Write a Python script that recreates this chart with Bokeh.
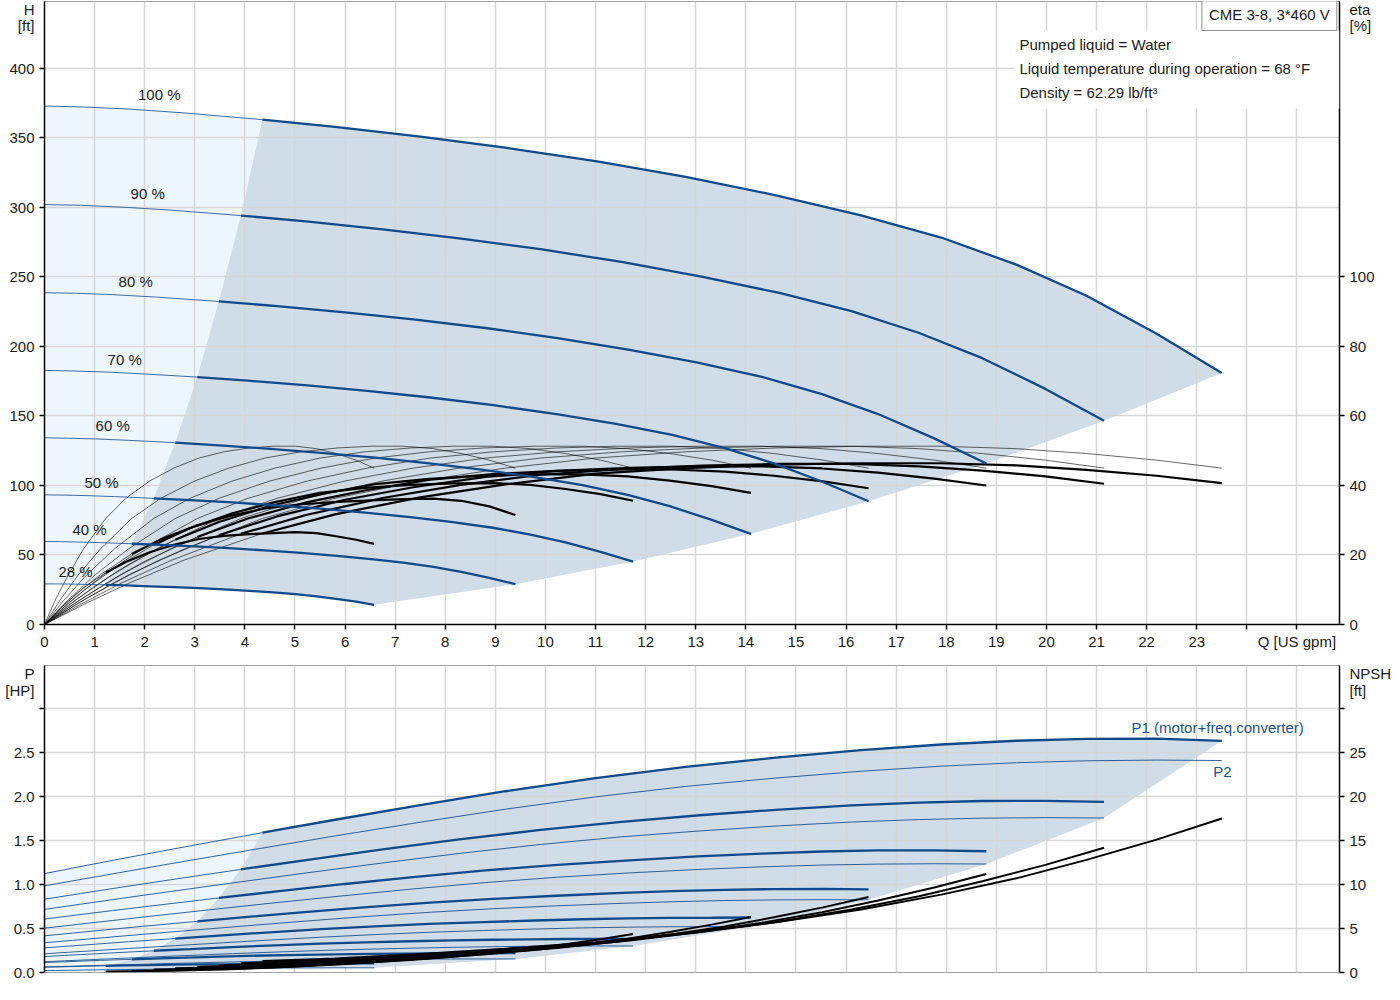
from bokeh.plotting import figure
from bokeh.layouts import column
from bokeh.models import Range1d, LinearAxis, FixedTicker, Label, BoxAnnotation, NumeralTickFormatter
from bokeh.embed import file_html
from bokeh.resources import INLINE

FONT = "Liberation Sans"
BLUE = "#0e4a8a"
DARK_FILL = "#d0dce7"
LIGHT_FILL = "#eef6fd"
GRID = "#d6d6d6"

# speed curves (% of nominal speed)
speeds = [100, 90, 80, 70, 60, 50, 40, 28]
speed_text = ["100 %", "90 %", "80 %", "70 %", "60 %", "50 %", "40 %", "28 %"]
speed_text_q = [2.29, 2.06, 1.82, 1.60, 1.36, 1.14, 0.90, 0.62]
speed_text_h = [381, 310, 247, 191, 143, 102, 68, 38]
MIN = 4  # index of the minimum flow point on each curve

flow_gpm = {
    100: [0, 0.8, 1.7, 2.8, 4.35, 5.8, 7.5, 9.2, 11, 12.8, 14.6, 16.3, 17.9, 19.4, 20.8, 22.2, 23.5],
    90: [0, 0.72, 1.53, 2.52, 3.92, 5.22, 6.75, 8.28, 9.9, 11.52, 13.14, 14.67, 16.11, 17.46, 18.72, 19.98, 21.15],
    80: [0, 0.64, 1.36, 2.24, 3.48, 4.64, 6, 7.36, 8.8, 10.24, 11.68, 13.04, 14.32, 15.52, 16.64, 17.76, 18.8],
    70: [0, 0.56, 1.19, 1.96, 3.05, 4.06, 5.25, 6.44, 7.7, 8.96, 10.22, 11.41, 12.53, 13.58, 14.56, 15.54, 16.45],
    60: [0, 0.48, 1.02, 1.68, 2.61, 3.48, 4.5, 5.52, 6.6, 7.68, 8.76, 9.78, 10.74, 11.64, 12.48, 13.32, 14.1],
    50: [0, 0.4, 0.85, 1.4, 2.18, 2.9, 3.75, 4.6, 5.5, 6.4, 7.3, 8.15, 8.95, 9.7, 10.4, 11.1, 11.75],
    40: [0, 0.32, 0.68, 1.12, 1.74, 2.32, 3, 3.68, 4.4, 5.12, 5.84, 6.52, 7.16, 7.76, 8.32, 8.88, 9.4],
    28: [0, 0.22, 0.48, 0.78, 1.22, 1.62, 2.1, 2.58, 3.08, 3.58, 4.09, 4.56, 5.01, 5.43, 5.82, 6.22, 6.58],
}

head_ft = {
    100: [373, 372.3, 370.8, 368.0, 363.2, 358.0, 351.0, 343.0, 333.3, 322.0, 308.8, 294.4, 278.4, 258.9, 236.5, 209.2, 181],
    90: [302.1, 301.6, 300.3, 298.1, 294.2, 290.0, 284.3, 277.8, 270.0, 260.8, 250.1, 238.5, 225.5, 209.7, 191.6, 169.5, 146.6],
    80: [238.7, 238.3, 237.3, 235.5, 232.4, 229.1, 224.6, 219.5, 213.3, 206.1, 197.6, 188.4, 178.2, 165.7, 151.4, 133.9, 115.8],
    70: [182.8, 182.4, 181.7, 180.3, 178.0, 175.4, 172.0, 168.1, 163.3, 157.8, 151.3, 144.3, 136.4, 126.9, 115.9, 102.5, 88.7],
    60: [134.3, 134.0, 133.5, 132.5, 130.8, 128.9, 126.4, 123.5, 120.0, 115.9, 111.2, 106.0, 100.2, 93.2, 85.1, 75.3, 65.2],
    50: [93.3, 93.1, 92.7, 92.0, 90.8, 89.5, 87.8, 85.8, 83.3, 80.5, 77.2, 73.6, 69.6, 64.7, 59.1, 52.3, 45.3],
    40: [59.7, 59.6, 59.3, 58.9, 58.1, 57.3, 56.2, 54.9, 53.3, 51.5, 49.4, 47.1, 44.5, 41.4, 37.8, 33.5, 29.0],
    28: [29.2, 29.2, 29.1, 28.9, 28.5, 28.1, 27.5, 26.9, 26.1, 25.2, 24.2, 23.1, 21.8, 20.3, 18.5, 16.4, 14.2],
}

# pump efficiency, same shape on every speed curve
eta_pump_pct = [0, 7.2, 14.4, 21.8, 30.5, 36.3, 41.3, 45.0, 47.9, 49.7, 50.8, 51.3, 51.3, 50.6, 49.2, 47.3, 45.0]

eta_total_pct = {
    100: [0, 5.9, 12.0, 18.6, 26.2, 31.7, 36.6, 40.3, 43.4, 45.0, 46.0, 46.4, 46.4, 45.8, 44.5, 42.8, 40.7],
    90: [0, 5.8, 11.9, 18.4, 26.1, 31.5, 36.4, 40.1, 43.1, 44.7, 45.7, 46.2, 46.2, 45.5, 44.3, 42.6, 40.5],
    80: [0, 5.8, 11.8, 18.2, 25.7, 31.1, 35.9, 39.5, 42.5, 44.2, 45.1, 45.5, 45.5, 44.9, 43.7, 42.0, 40.0],
    70: [0, 5.7, 11.5, 17.9, 25.2, 30.5, 35.2, 38.7, 41.7, 43.3, 44.2, 44.6, 44.6, 44.0, 42.8, 41.2, 39.2],
    60: [0, 5.5, 11.2, 17.3, 24.4, 29.5, 34.1, 37.5, 40.4, 41.9, 42.8, 43.2, 43.2, 42.6, 41.4, 39.8, 37.9],
    50: [0, 5.1, 10.5, 16.2, 22.9, 27.7, 32.0, 35.2, 37.9, 39.3, 40.2, 40.6, 40.7, 40.2, 39.0, 37.5, 35.6],
    40: [0, 4.6, 9.3, 14.4, 20.3, 24.5, 28.3, 31.2, 33.4, 34.6, 35.3, 35.7, 36.1, 36.2, 35.6, 34.0, 31.5],
    28: [0, 3.3, 6.8, 10.6, 14.9, 18.0, 20.8, 22.9, 24.6, 25.5, 26.0, 26.3, 26.6, 26.3, 25.4, 24.4, 23.2],
}

p1_hp = {
    100: [1.124, 1.213, 1.311, 1.428, 1.589, 1.736, 1.902, 2.06, 2.21, 2.337, 2.442, 2.527, 2.591, 2.634, 2.656, 2.659, 2.633],
    90: [0.833, 0.897, 0.969, 1.054, 1.172, 1.278, 1.399, 1.512, 1.62, 1.713, 1.79, 1.852, 1.9, 1.931, 1.949, 1.951, 1.94],
    80: [0.607, 0.653, 0.704, 0.764, 0.847, 0.922, 1.006, 1.084, 1.16, 1.224, 1.275, 1.319, 1.352, 1.375, 1.387, 1.389, 1.378],
    70: [0.417, 0.448, 0.483, 0.525, 0.581, 0.632, 0.689, 0.743, 0.795, 0.837, 0.872, 0.901, 0.924, 0.94, 0.948, 0.95, 0.944],
    60: [0.28, 0.3, 0.322, 0.35, 0.386, 0.42, 0.457, 0.492, 0.524, 0.552, 0.573, 0.591, 0.605, 0.614, 0.62, 0.622, 0.625],
    50: [0.181, 0.194, 0.207, 0.224, 0.247, 0.266, 0.289, 0.309, 0.328, 0.342, 0.355, 0.365, 0.372, 0.377, 0.381, 0.382, 0.381],
    40: [0.113, 0.12, 0.128, 0.138, 0.149, 0.16, 0.172, 0.184, 0.193, 0.2, 0.206, 0.211, 0.215, 0.218, 0.219, 0.219, 0.22],
    28: [0.061, 0.0625, 0.066, 0.071, 0.076, 0.08, 0.083, 0.089, 0.092, 0.093, 0.097, 0.098, 0.099, 0.101, 0.103, 0.103, 0.103],
}

p2_hp = {
    100: [0.985, 1.065, 1.155, 1.264, 1.414, 1.552, 1.708, 1.856, 1.996, 2.115, 2.21, 2.287, 2.345, 2.384, 2.406, 2.414, 2.409],
    90: [0.718, 0.776, 0.842, 0.921, 1.031, 1.131, 1.245, 1.353, 1.455, 1.542, 1.611, 1.667, 1.71, 1.738, 1.754, 1.76, 1.756],
    80: [0.504, 0.545, 0.591, 0.647, 0.724, 0.795, 0.874, 0.95, 1.022, 1.083, 1.132, 1.171, 1.201, 1.221, 1.232, 1.236, 1.233],
    70: [0.338, 0.365, 0.396, 0.434, 0.485, 0.532, 0.586, 0.637, 0.685, 0.725, 0.758, 0.784, 0.804, 0.818, 0.825, 0.828, 0.826],
    60: [0.213, 0.23, 0.249, 0.273, 0.305, 0.335, 0.369, 0.401, 0.431, 0.457, 0.477, 0.494, 0.507, 0.515, 0.52, 0.521, 0.52],
    50: [0.123, 0.133, 0.144, 0.158, 0.177, 0.194, 0.214, 0.232, 0.25, 0.264, 0.276, 0.286, 0.293, 0.298, 0.301, 0.302, 0.301],
    40: [0.063, 0.068, 0.074, 0.081, 0.09, 0.099, 0.109, 0.119, 0.128, 0.135, 0.141, 0.146, 0.15, 0.153, 0.154, 0.154, 0.154],
    28: [0.022, 0.023, 0.025, 0.028, 0.031, 0.034, 0.037, 0.041, 0.044, 0.046, 0.049, 0.05, 0.051, 0.052, 0.053, 0.053, 0.053],
}

# NPSH from the minimum flow point to the end of each curve
npsh_ft = {
    100: [1.3, 1.6, 2.1, 2.7, 3.45, 4.5, 5.7, 7.15, 8.85, 10.7, 12.8, 15.1, 17.5],
    90: [1.05, 1.3, 1.7, 2.19, 2.79, 3.65, 4.62, 5.79, 7.17, 8.67, 10.37, 12.23, 14.18],
    80: [0.83, 1.02, 1.34, 1.73, 2.21, 2.88, 3.65, 4.58, 5.66, 6.85, 8.19, 9.66, 11.2],
    70: [0.64, 0.78, 1.03, 1.32, 1.69, 2.21, 2.79, 3.5, 4.34, 5.24, 6.27, 7.4, 8.58],
    60: [0.47, 0.58, 0.76, 0.97, 1.24, 1.62, 2.05, 2.57, 3.19, 3.85, 4.61, 5.44, 6.3],
    50: [0.33, 0.4, 0.53, 0.68, 0.86, 1.13, 1.43, 1.79, 2.21, 2.68, 3.2, 3.78, 4.38],
    40: [0.21, 0.26, 0.34, 0.43, 0.55, 0.72, 0.91, 1.14, 1.42, 1.71, 2.05, 2.42, 2.8],
    28: [0.1, 0.13, 0.16, 0.21, 0.27, 0.35, 0.45, 0.56, 0.69, 0.84, 1.0, 1.18, 1.37],
}

head_ticks = [0, 50, 100, 150, 200, 250, 300, 350, 400]
eta_ticks = [0, 20, 40, 60, 80, 100]
power_ticks = [0, 0.5, 1, 1.5, 2, 2.5, 3]
npsh_ticks = [0, 5, 10, 15, 20, 25, 30]
flow_ticks = list(range(26))

info_lines = ["Pumped liquid = Water",
              "Liquid temperature during operation = 68 \u00b0F",
              "Density = 62.29 lb/ft\u00b3"]


def style_axis(ax, minor_marks=False):
    ax.axis_line_color = "black"
    ax.axis_line_width = 1.5
    ax.major_tick_out = 5
    ax.major_tick_in = 0
    if minor_marks:
        # tick marks only at the numeric ticks; the unit titles are extra labelled ticks
        ax.major_tick_line_color = None
        ax.minor_tick_line_color = "black"
        ax.minor_tick_line_width = 1.5
        ax.minor_tick_out = 5
        ax.minor_tick_in = 0
    else:
        ax.major_tick_line_color = "black"
        ax.major_tick_line_width = 1.5
        ax.minor_tick_line_color = None
    ax.major_label_text_font = FONT
    ax.major_label_text_font_size = "15px"
    ax.major_label_text_color = "#1a1a1a"
    ax.major_label_standoff = 5


def text(fig, x, y, s, align="center", color="#1a1a1a", **kw):
    fig.add_layout(Label(x=x, y=y, text=s, text_font=FONT, text_font_size="15px",
                         text_color=color, text_align=align, text_baseline="middle", **kw))


# ---------------- top: head + efficiency ----------------
top = figure(frame_width=1295, frame_height=623, x_range=Range1d(0, 25.85), y_range=Range1d(0, 448.2),
             min_border_left=44, min_border_right=52, min_border_top=1, min_border_bottom=36,
             output_backend="svg", toolbar_location=None)
top.extra_y_ranges = {"eta": Range1d(0, 179.28)}
top.outline_line_color = "#a0a0a0"

top.xaxis.ticker = FixedTicker(ticks=flow_ticks, minor_ticks=[])
top.xaxis.major_label_overrides = {24: "", 25: "Q [US gpm]"}
top.yaxis.ticker = FixedTicker(ticks=head_ticks + [431, 443], minor_ticks=head_ticks)
top.yaxis.major_label_overrides = {431: "[ft]", 443: "H"}
eta_axis = LinearAxis(y_range_name="eta",
                      ticker=FixedTicker(ticks=eta_ticks + [172.4, 177.2], minor_ticks=eta_ticks))
eta_axis.major_label_overrides = {172.4: "[%]", 177.2: "eta"}
top.add_layout(eta_axis, "right")
style_axis(top.xaxis[0])
style_axis(top.yaxis[0], minor_marks=True)
style_axis(eta_axis, minor_marks=True)
top.xaxis.major_label_standoff = 3
for g in [top.xgrid, top.ygrid]:
    g.grid_line_color = GRID
    g.grid_line_width = 1.5
top.xgrid.ticker = FixedTicker(ticks=flow_ticks)
top.ygrid.ticker = FixedTicker(ticks=head_ticks)

# operating area
dark_x = flow_gpm[100] + [flow_gpm[n][-1] for n in speeds[1:]] + flow_gpm[28][::-1]
dark_y = head_ft[100] + [head_ft[n][-1] for n in speeds[1:]] + head_ft[28][::-1]
r = top.patch(dark_x, dark_y, fill_color=DARK_FILL, line_color=None)
r.level = "image"
light_x = flow_gpm[100][:MIN + 1] + [flow_gpm[n][MIN] for n in speeds[1:]] + flow_gpm[28][:MIN + 1][::-1]
light_y = head_ft[100][:MIN + 1] + [head_ft[n][MIN] for n in speeds[1:]] + head_ft[28][:MIN + 1][::-1]
r = top.patch(light_x, light_y, fill_color=LIGHT_FILL, line_color=None)
r.level = "image"

for n in speeds:
    q = flow_gpm[n]
    top.line(q, eta_pump_pct, y_range_name="eta", line_color="black", line_width=0.7, line_alpha=0.85)
    top.line(q[:MIN + 1], eta_total_pct[n][:MIN + 1], y_range_name="eta", line_color="black",
             line_width=0.7, line_alpha=0.85)
    top.line(q[MIN:], eta_total_pct[n][MIN:], y_range_name="eta", line_color="black", line_width=2.2)

for n in speeds:
    q = flow_gpm[n]
    top.line(q[:MIN + 1], head_ft[n][:MIN + 1], line_color=BLUE, line_width=1, line_alpha=0.8)
    top.line(q[MIN:], head_ft[n][MIN:], line_color=BLUE, line_width=2.3)

for s, xq, yh in zip(speed_text, speed_text_q, speed_text_h):
    text(top, xq, yh, s)

top.add_layout(BoxAnnotation(left=19.36, right=25.85, bottom=371.2, top=427.3,
                             fill_color="white", fill_alpha=1, line_color=None))
for s, yh in zip(info_lines, [417.3, 400.0, 382.7]):
    text(top, 19.46, yh, s, align="left")
text(top, 24.45, 438.5, "CME 3-8, 3*460 V", border_line_color="#8c8c8c",
     background_fill_color="white", padding=7)

# ---------------- bottom: power + NPSH ----------------
bot = figure(frame_width=1295, frame_height=307, x_range=top.x_range, y_range=Range1d(0, 3.489),
             min_border_left=44, min_border_right=52, min_border_top=5, min_border_bottom=18,
             output_backend="svg", toolbar_location=None)
bot.extra_y_ranges = {"npsh": Range1d(0, 34.89)}
bot.outline_line_color = "#a0a0a0"
bot.xaxis.visible = False
bot.yaxis.ticker = FixedTicker(ticks=power_ticks + [3.2, 3.4], minor_ticks=power_ticks)
bot.yaxis.formatter = NumeralTickFormatter(format="0.0")
bot.yaxis.major_label_overrides = {3: "", 3.2: "[HP]", 3.4: "P"}
npsh_axis = LinearAxis(y_range_name="npsh",
                       ticker=FixedTicker(ticks=npsh_ticks + [32, 34], minor_ticks=npsh_ticks))
npsh_axis.major_label_overrides = {30: "", 32: "[ft]", 34: "NPSH"}
bot.add_layout(npsh_axis, "right")
style_axis(bot.yaxis[0], minor_marks=True)
style_axis(npsh_axis, minor_marks=True)
for g in [bot.xgrid, bot.ygrid]:
    g.grid_line_color = GRID
    g.grid_line_width = 1.5
bot.xgrid.ticker = FixedTicker(ticks=flow_ticks)
bot.ygrid.ticker = FixedTicker(ticks=power_ticks)

pdark_x = flow_gpm[100] + [flow_gpm[n][-1] for n in speeds[1:]] + flow_gpm[28][::-1]
pdark_y = p1_hp[100] + [p2_hp[n][-1] for n in speeds[1:]] + p2_hp[28][::-1]
r = bot.patch(pdark_x, pdark_y, fill_color=DARK_FILL, line_color=None)
r.level = "image"
plight_x = flow_gpm[100][:MIN + 1] + [flow_gpm[n][MIN] for n in speeds[1:]] + flow_gpm[28][:MIN + 1][::-1]
plight_y = p1_hp[100][:MIN + 1] + [p1_hp[n][MIN] for n in speeds[1:]] + p2_hp[28][:MIN + 1][::-1]
r = bot.patch(plight_x, plight_y, fill_color=LIGHT_FILL, line_color=None)
r.level = "image"

for n in speeds:
    q = flow_gpm[n]
    bot.line(q, p2_hp[n], line_color=BLUE, line_width=1, line_alpha=0.85)
    bot.line(q[:MIN + 1], p1_hp[n][:MIN + 1], line_color=BLUE, line_width=1, line_alpha=0.85)
    bot.line(q[MIN:], p1_hp[n][MIN:], line_color=BLUE, line_width=2.3)
for n in speeds:
    bot.line(flow_gpm[n][MIN:], npsh_ft[n], y_range_name="npsh", line_color="black", line_width=2)

text(bot, 21.7, 2.784, "P1 (motor+freq.converter)", align="left", color="#1d5390")
text(bot, 23.33, 2.284, "P2", align="left", color="#1d5390")

layout = column(top, bot)
open("out.html", "w").write(file_html(layout, INLINE))
